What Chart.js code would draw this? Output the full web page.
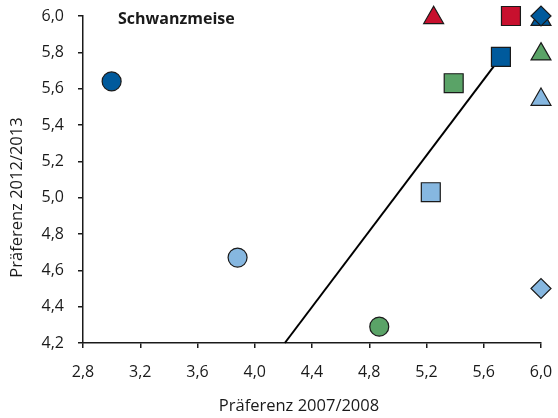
<!DOCTYPE html>
<html>
<head>
<meta charset="utf-8">
<script src="https://cdn.jsdelivr.net/npm/chart.js@4"></script>
<style>
	body { margin: 0; background: #fff; }
	#wrap { width: 558px; height: 418px; }
</style>
</head>
<body>
<div id="wrap"><canvas id="scatterCanvas" width="558" height="418"></canvas></div>
<script>
// colours used by the markers
const darkBlue = "#005a9c";
const lightBlue = "#86b7e0";
const green = "#5aa367";
const red = "#c8102e";

// circles
const circleX = [3.0, 3.88, 4.87];
const circleY = [5.64, 4.67, 4.29];
const circleColors = [darkBlue, lightBlue, green];

// squares
const squareX = [5.23, 5.39, 5.72, 5.79];
const squareY = [5.03, 5.63, 5.775, 6.0];
const squareColors = [lightBlue, green, darkBlue, red];

// triangles
const triangleX = [5.25, 6.0, 6.0, 6.0];
const triangleY = [5.99, 5.98, 5.79, 5.54];
const triangleColors = [red, darkBlue, green, lightBlue];

// diamonds
const diamondX = [6.0, 6.0];
const diamondY = [6.0, 4.5];
const diamondColors = [darkBlue, lightBlue];

// trend line
const lineX = [4.21, 5.72];
const lineY = [4.2, 5.775];

// axes
const xTicks = [2.8, 3.2, 3.6, 4.0, 4.4, 4.8, 5.2, 5.6, 6.0];
const yTicks = [4.2, 4.4, 4.6, 4.8, 5.0, 5.2, 5.4, 5.6, 5.8, 6.0];
const xTitle = "Präferenz 2007/2008";
const yTitle = "Präferenz 2012/2013";
const chartTitle = "Schwanzmeise";

const fontFamily = "'Open Sans', 'Noto Sans', sans-serif";
const textColor = "#1a1a1a";

function toPoints(xs, ys) {
	let pts = [];
	for (let i = 0; i < xs.length; i++) {
		pts.push({ x: xs[i], y: ys[i] });
	}
	return pts;
}

function markerSet(xs, ys, cols, style, radius, order) {
	return {
		type: 'scatter',
		data: toPoints(xs, ys),
		pointStyle: style,
		pointRadius: radius,
		pointHoverRadius: radius,
		pointBackgroundColor: cols,
		pointBorderColor: "#1a1a1a",
		pointBorderWidth: 1.2,
		showLine: false,
		clip: false,
		order: order
	};
}

function fmt(v) {
	return Number(v).toFixed(1).replace('.', ',');
}

const textPlugin = {	// Titel und Achsenbeschriftung
	id: 'textLabels',
	afterDraw(chart) {
		const ctx = chart.ctx;
		const area = chart.chartArea;
		const midX = (area.left + area.right) / 2;
		const midY = (area.top + area.bottom) / 2;
		ctx.save();
		ctx.fillStyle = textColor;
		ctx.textBaseline = 'middle';

		ctx.font = "bold 16px " + fontFamily;
		ctx.textAlign = 'left';
		ctx.fillText(chartTitle, area.left + 35, area.top + 3);

		ctx.font = "16.5px " + fontFamily;
		ctx.textAlign = 'center';
		ctx.fillText(xTitle, midX - 13, area.bottom + 63);

		ctx.translate(17, midY + 18);
		ctx.rotate(-Math.PI / 2);
		ctx.fillText(yTitle, 0, 0);
		ctx.restore();
	}
};

const ctx = document.getElementById("scatterCanvas").getContext("2d");

new Chart(ctx, {
	type: 'scatter',
	data: {
		datasets: [
			{
				type: 'line',
				data: toPoints(lineX, lineY),
				borderColor: "#000",
				borderWidth: 2,
				pointRadius: 0,
				fill: false,
				clip: false,
				order: 5
			},
			markerSet(circleX, circleY, circleColors, 'circle', 9.5, 2),
			markerSet(squareX, squareY, squareColors, 'rect', 13.4, 2),
			markerSet(triangleX, triangleY, triangleColors, 'triangle', 11.5, 3),
			markerSet(diamondX, diamondY, diamondColors, 'rectRot', 10, 1)
		]
	},
	options: {
		responsive: false,
		animation: false,
		events: [],
		layout: {
			padding: { top: 16, right: 17, left: 0, bottom: 0 }
		},
		plugins: {
			legend: { display: false },
			tooltip: { enabled: false }
		},
		scales: {
			x: {
				type: 'linear',
				min: 2.8,
				max: 6.0,
				afterBuildTicks: function(scale) {
					scale.ticks = xTicks.map(v => ({ value: v }));
				},
				afterFit: function(scale) {
					scale.height = 75;
					scale.paddingLeft = 0;
					scale.paddingRight = 0;
				},
				border: { display: true, color: "#1a1a1a", width: 1.5 },
				grid: { drawOnChartArea: false, drawTicks: true, tickLength: 5, color: "#1a1a1a", lineWidth: 1.5 },
				ticks: {
					color: textColor,
					font: { family: fontFamily, size: 16 },
					padding: 15,
					maxRotation: 0,
					callback: fmt
				}
			},
			y: {
				type: 'linear',
				min: 4.2,
				max: 6.0,
				afterBuildTicks: function(scale) {
					scale.ticks = yTicks.map(v => ({ value: v }));
				},
				afterFit: function(scale) {
					scale.width = 83;
					scale.paddingTop = 0;
					scale.paddingBottom = 0;
				},
				border: { display: true, color: "#1a1a1a", width: 1.5 },
				grid: { drawOnChartArea: false, drawTicks: true, tickLength: 5, color: "#1a1a1a", lineWidth: 1.5 },
				ticks: {
					color: textColor,
					font: { family: fontFamily, size: 16 },
					padding: 14,
					callback: fmt
				}
			}
		}
	},
	plugins: [textPlugin]
});
</script>
</body>
</html>
